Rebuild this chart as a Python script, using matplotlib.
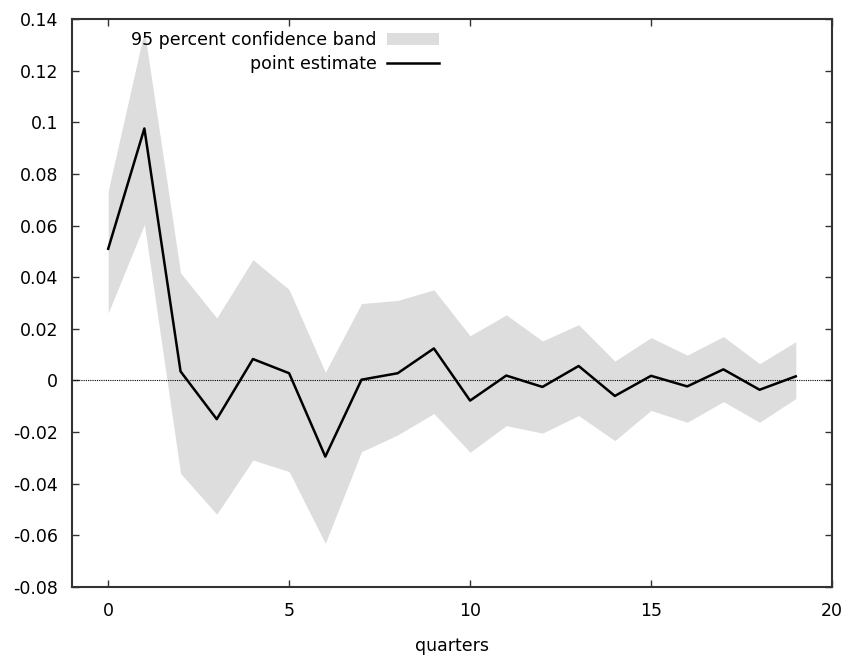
import numpy as np
import matplotlib
matplotlib.use('Agg')
import matplotlib.pyplot as plt

# horizonte en trimestres
quarters = list(range(20))

# estimacion puntual
point_estimate = [0.051, 0.0976, 0.0035, -0.015, 0.0083, 0.0028, -0.0295, 0.0003,
                  0.0028, 0.0124, -0.0078, 0.0019, -0.0025, 0.0056, -0.006, 0.0018,
                  -0.0023, 0.0043, -0.0036, 0.0016]

# banda de confianza al 95%
band_upper = [0.0734, 0.1355, 0.0417, 0.0242, 0.0468, 0.0352, 0.0032, 0.0298,
              0.031, 0.0351, 0.0173, 0.0254, 0.0153, 0.0216, 0.0075, 0.0166,
              0.0098, 0.017, 0.0065, 0.015]
band_lower = [0.0261, 0.0604, -0.036, -0.0518, -0.0308, -0.0353, -0.0631, -0.0276,
              -0.0211, -0.0128, -0.0278, -0.0175, -0.0204, -0.0136, -0.0233, -0.0116,
              -0.0162, -0.0082, -0.0162, -0.007]

y_ticks = [0.14, 0.12, 0.1, 0.08, 0.06, 0.04, 0.02, 0, -0.02, -0.04, -0.06, -0.08]
y_tick_labels = ['0.14', '0.12', '0.1', '0.08', '0.06', '0.04', '0.02', '0',
                 '-0.02', '-0.04', '-0.06', '-0.08']
x_ticks = [0, 5, 10, 15, 20]

plt.rcParams['font.family'] = ['DejaVu Sans']
plt.rcParams['font.size'] = 12.5

fig = plt.figure(figsize=(8.48, 6.6), dpi=100)
ax = fig.add_axes([0.0849, 0.1106, 0.8962, 0.8606])

ax.fill_between(quarters, band_lower, band_upper, color='#dddddd', linewidth=0,
                label='95 percent confidence band')
ax.plot(quarters, point_estimate, color='black', linewidth=1.8, label='point estimate')
ax.axhline(0, color='black', linewidth=0.8, linestyle=(0, (1, 1)))

ax.set_xlim(-1, 20)
ax.set_ylim(-0.08, 0.14)
ax.set_xticks(x_ticks)
ax.set_yticks(y_ticks)
ax.set_yticklabels(y_tick_labels)
ax.tick_params(direction='in', length=5, width=1, color='#333333',
               top=True, right=True, pad=10)
ax.tick_params(axis='x', pad=11)
for s in ax.spines.values():
    s.set_linewidth(1.5)
    s.set_color('#333333')

ax.set_xlabel('quarters', labelpad=12)

ax.legend(loc='upper right', bbox_to_anchor=(0.49, 0.988), frameon=False,
          markerfirst=False, handlelength=3.0, handletextpad=0.6,
          borderpad=0.3, labelspacing=0.35, borderaxespad=0)

fig.savefig('out.png', dpi=100)
